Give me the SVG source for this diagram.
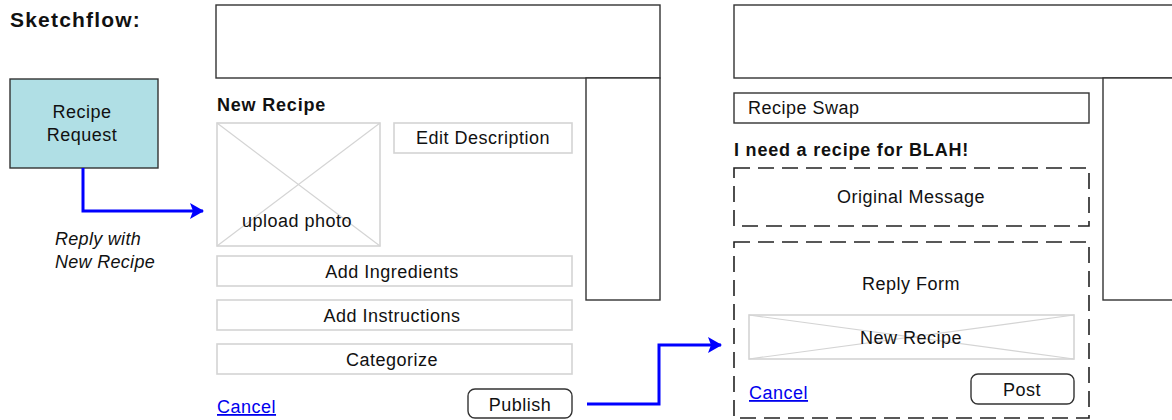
<svg xmlns="http://www.w3.org/2000/svg" width="1172" height="420" viewBox="0 0 1172 420">
<style>
text{font-family:"Liberation Sans",Arial,sans-serif;font-size:18px;fill:#111;letter-spacing:0.5px}
.b{font-weight:bold;letter-spacing:0.8px}
.c{text-anchor:middle}
.i{font-style:italic;letter-spacing:0.3px}
.lnk{fill:#0000ee;text-decoration:underline}
.frame{fill:#fff;stroke:#333;stroke-width:1.4}
.lite{fill:#fff;stroke:#d4d4d4;stroke-width:1.6}
.x{stroke:#d4d4d4;stroke-width:1.2}
.dash{fill:none;stroke:#222;stroke-width:1.6;stroke-dasharray:16 8}
.btn{fill:#fff;stroke:#333;stroke-width:1.4}
.conn{fill:none;stroke:#0000ff;stroke-width:3}
</style>
<defs>
<marker id="ah" markerWidth="16" markerHeight="16" refX="13" refY="8" orient="auto" markerUnits="userSpaceOnUse">
<path d="M0,0 L14,8 L0,16 L3,8 Z" fill="#0000ff"/>
</marker>
</defs>
<rect width="1172" height="420" fill="#fff"/>
<text class="b" x="10" y="27" style="font-size:21px;letter-spacing:1.2px">Sketchflow:</text>

<g id="recipe-request">
<rect x="10" y="79" width="148" height="89" fill="#b0dfe5" stroke="#333" stroke-width="1.4"/>
<text class="c" x="82" y="118">Recipe</text>
<text class="c" x="82" y="141">Request</text>
</g>

<g id="new-recipe-screen">
<rect class="frame" x="216" y="5" width="444" height="73"/>
<rect class="frame" x="586" y="78" width="74" height="222"/>
<text class="b" x="217" y="111">New Recipe</text>
<g id="upload-photo">
<rect class="lite" x="217" y="123" width="163" height="123"/>
<line class="x" x1="217" y1="123" x2="380" y2="246"/>
<line class="x" x1="380" y1="123" x2="217" y2="246"/>
<text class="c" x="297" y="227">upload photo</text>
</g>
<g id="edit-description">
<rect class="lite" x="394" y="123" width="178" height="30"/>
<text class="c" x="483" y="144">Edit Description</text>
</g>
<g id="add-ingredients">
<rect class="lite" x="217" y="256" width="355" height="30"/>
<text class="c" x="392" y="278">Add Ingredients</text>
</g>
<g id="add-instructions">
<rect class="lite" x="217" y="300" width="355" height="30"/>
<text class="c" x="392" y="322">Add Instructions</text>
</g>
<g id="categorize">
<rect class="lite" x="217" y="344" width="355" height="30"/>
<text class="c" x="392" y="366">Categorize</text>
</g>
<text class="lnk" x="217" y="413">Cancel</text>
<g id="publish">
<rect class="btn" x="468" y="389" width="104" height="29" rx="7"/>
<text class="c" x="520" y="411">Publish</text>
</g>
</g>

<g id="recipe-swap-screen">
<rect class="frame" x="734" y="5" width="446" height="73"/>
<rect class="frame" x="1103" y="78" width="77" height="222"/>
<g id="recipe-swap">
<rect class="frame" x="734" y="93" width="355" height="30"/>
<text x="748" y="114">Recipe Swap</text>
</g>
<text class="b" x="734" y="156">I need a recipe for BLAH!</text>
<g id="original-message">
<rect class="dash" x="734" y="168" width="355" height="58"/>
<text class="c" x="911" y="203">Original Message</text>
</g>
<g id="reply-form">
<rect class="dash" x="734" y="242" width="355" height="176"/>
<text class="c" x="911" y="290">Reply Form</text>
<rect class="lite" x="749" y="315" width="325" height="44"/>
<line class="x" x1="749" y1="315" x2="1074" y2="359"/>
<line class="x" x1="1074" y1="315" x2="749" y2="359"/>
<text class="c" x="911" y="344">New Recipe</text>
<text class="lnk" x="749" y="399">Cancel</text>
<g id="post">
<rect class="btn" x="971" y="374" width="103" height="30" rx="7"/>
<text class="c" x="1022" y="396">Post</text>
</g>
</g>
</g>

<g id="connectors">
<path class="conn" d="M83,168 V211 H203" marker-end="url(#ah)"/>
<path class="conn" d="M587,404 H659 V345 H721" marker-end="url(#ah)"/>
<text class="i" x="55" y="245">Reply with</text>
<text class="i" x="55" y="268">New Recipe</text>
</g>
</svg>
